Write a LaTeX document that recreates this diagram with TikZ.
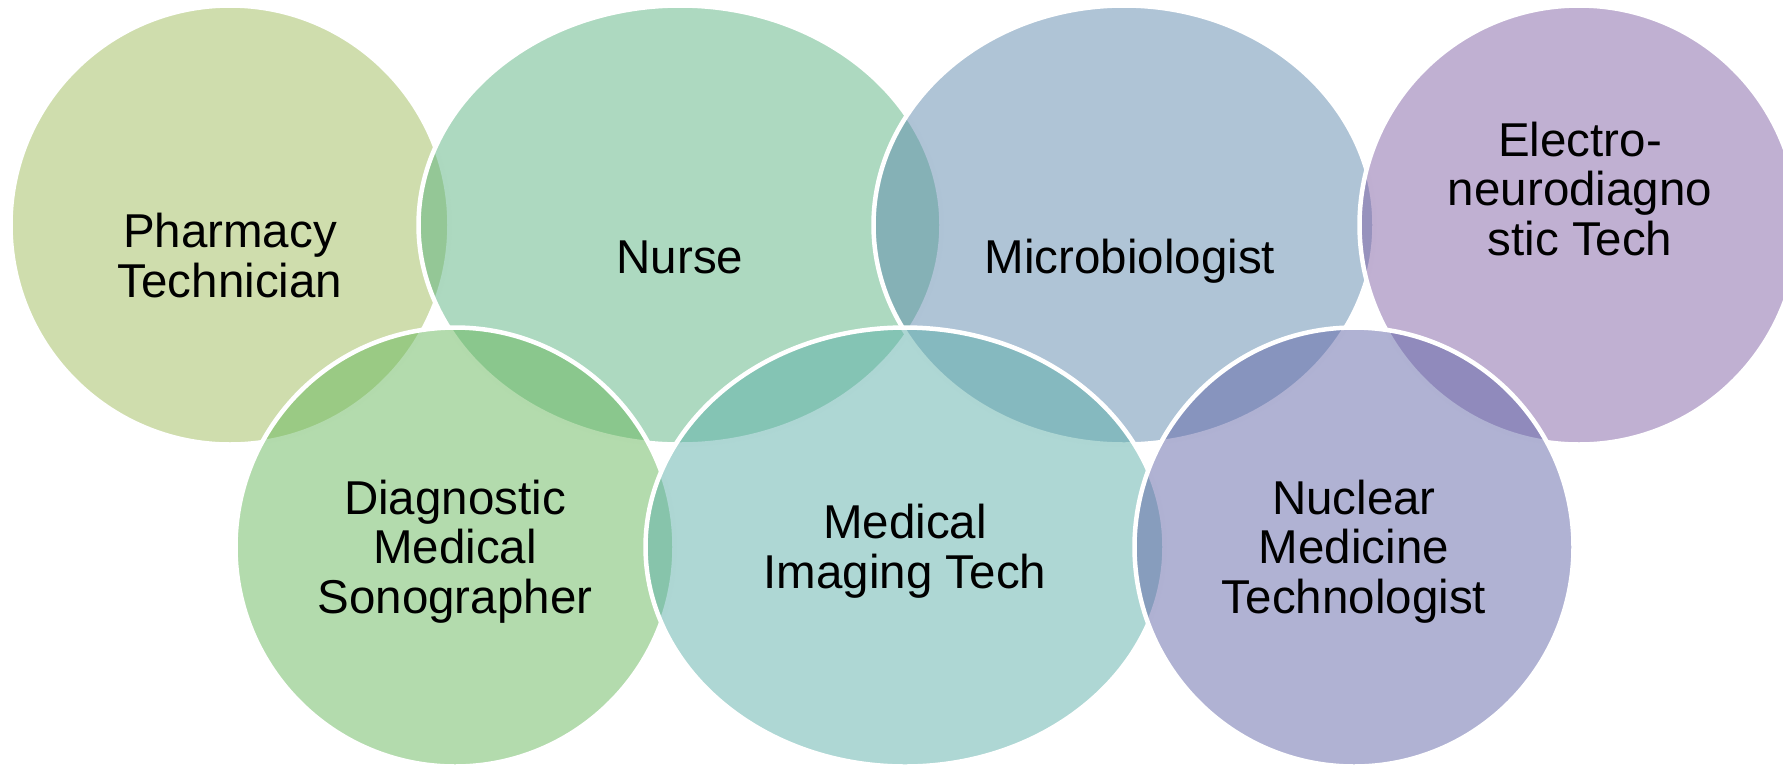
\documentclass[tikz,border=0pt]{standalone}
\usepackage{fontspec}
\setmainfont{Liberation Sans}
\usetikzlibrary{shapes.geometric}
\definecolor{cPharm}{RGB}{159,187,91}
\definecolor{cNurse}{RGB}{91,179,129}
\definecolor{cMicro}{RGB}{95,137,173}
\definecolor{cElec}{RGB}{129,97,165}
\definecolor{cSono}{RGB}{103,183,91}
\definecolor{cImag}{RGB}{93,175,169}
\definecolor{cNucl}{RGB}{97,101,167}
\tikzset{
  venn/.style={ellipse, draw=white, line width=4.5pt, fill opacity=0.5, inner sep=0pt, minimum height=439pt},
  lbl/.style={align=center, anchor=base, text=black, inner sep=0pt,
    font=\fontsize{47.5}{49.5}\selectfont},
}
\begin{document}
\begin{tikzpicture}[x=1pt,y=-1pt]
\useasboundingbox (0,0) rectangle (1783,764);
\clip (0,0) rectangle (1783,764);
\node[venn, fill=cPharm, minimum width=439pt] (pharm) at (230,225) {};
\node[venn, fill=cNurse, minimum width=523pt] (nurse) at (680,225) {};
\node[venn, fill=cMicro, minimum width=501pt] (micro) at (1124,225) {};
\node[venn, fill=cElec, minimum width=439pt] (elec) at (1579,225) {};
\node[venn, fill=cSono, minimum width=439pt] (sono) at (455,547) {};
\node[venn, fill=cImag, minimum width=519pt] (imag) at (905,547) {};
\node[venn, fill=cNucl, minimum width=439pt] (nucl) at (1354,547) {};
\node[lbl] (tpharm) at (230,297) {Pharmacy\\Technician};
\node[lbl] (tnurse) at (680,273) {Nurse};
\node[lbl] (tmicro) at (1130,273) {Microbiologist};
\node[lbl] (telec) at (1580,255) {Electro-\\neurodiagno\\stic Tech};
\node[lbl] (tsono) at (455,613) {Diagnostic\\Medical\\Sonographer};
\node[lbl] (timag) at (905,588) {Medical\\Imaging Tech};
\node[lbl] (tnucl) at (1354,613) {Nuclear\\Medicine\\Technologist};
\end{tikzpicture}
\end{document}
